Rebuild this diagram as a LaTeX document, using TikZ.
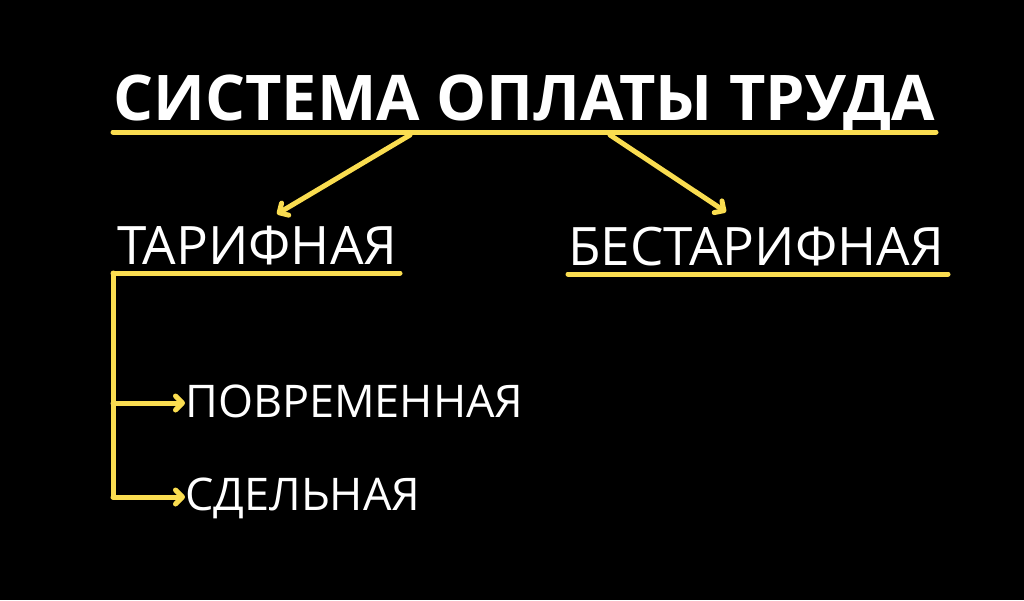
\documentclass[tikz,border=0pt]{standalone}
\usepackage{fontspec}
\setmainfont{Open Sans}
\usetikzlibrary{arrows.meta}
\definecolor{accent}{RGB}{250,221,80}
\tikzset{
  head/.style={anchor=base west,inner sep=0pt,text=white,font=\fontsize{63}{63}\bfseries\selectfont},
  kind/.style={anchor=base west,inner sep=0pt,text=white,font=\fontsize{53}{53}\selectfont},
  sub/.style={anchor=base west,inner sep=0pt,text=white,font=\fontsize{45}{45}\selectfont},
  bar/.style={accent,line width=5pt,line cap=round},
  link/.style={bar,-{Straight Barb[length=7pt,width=14pt,round]}}
}
\begin{document}
\begin{tikzpicture}[x=1pt,y=-1pt]
			\fill[black] (0,0) rectangle (1024,600);
			\node[head] (sys) at (113,120) {СИСТЕМА ОПЛАТЫ ТРУДА};
			\node[kind] (tar) at (117,264) {ТАРИФНАЯ};
			\node[kind] (btar) at (568,265) {БЕСТАРИФНАЯ};
			\node[sub] (pov) at (185,417) {ПОВРЕМЕННАЯ};
			\node[sub] (sdel) at (185,510) {СДЕЛЬНАЯ};
			\coordinate (s1) at (410,135);
			\coordinate (s2) at (610,135);
			\coordinate (e1) at (277,214);
			\coordinate (e2) at (726,212);
			\coordinate (top) at (113,273);
			\coordinate (b1) at (113,403);
			\coordinate (b2) at (113,497);
			\draw[bar] (113,132)--(936,132);
			\draw[bar] (top)--(400,273);
			\draw[bar] (568,274)--(948,274);
			\draw[link] (s1)--(e1);
			\draw[link] (s2)--(e2);
			\draw[bar] (top)--(b2);
			\draw[link] (b1)--(b1-|pov.west);
			\draw[link] (b2)--(b2-|sdel.west);
			\end{tikzpicture}
\end{document}
